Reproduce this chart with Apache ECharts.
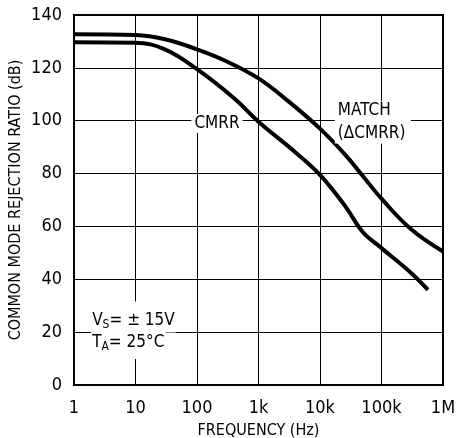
<!DOCTYPE html>
<html>
<head>
<meta charset="utf-8">
<script src="https://cdn.jsdelivr.net/npm/echarts@6/dist/echarts.min.js"></script>
<style>
  html, body { margin: 0; padding: 0; background: #fff; }
  #main { width: 456px; height: 438px; }
</style>
</head>
<body>
<div id="main"></div>
<script>
// values (frequency in Hz, ratio in dB)
var cmrrFreq = [1, 10, 30, 100, 400, 1000, 4000, 10000, 26000, 50000, 100000, 300000, 570000]
var cmrrDb = [129.7, 129.5, 127, 119.5, 108.5, 99.6, 88, 79.5, 67.5, 57.8, 51.8, 42.5, 36]
var matchFreq = [1, 10, 30, 100, 300, 1000, 3000, 10000, 26000, 50000, 100000, 300000, 1000000]
var matchDb = [132.7, 132.4, 130.8, 127, 122.5, 116, 107.5, 97, 87, 79, 70.5, 59, 50.5]
var xTickLabels = ['1', '10', '100', '1k', '10k', '100k', '1M']

var FONT = '"Liberation Sans Narrow", "DejaVu Sans Condensed", sans-serif'

function pairs (xs, ys) {
  return xs.map(function (x, i) { return [x, ys[i]] })
}

var chart = echarts.init(document.getElementById('main'))

var option = {
  animation: false,
  backgroundColor: '#fff',
  grid: {
    left: 74,
    right: 13,
    top: 15,
    bottom: 53,
    outerBoundsMode: 'none',
    containLabel: false,
    show: true,
    borderColor: '#000',
    borderWidth: 2
  },
  xAxis: {
    type: 'log',
    logBase: 10,
    min: 1,
    max: 1000000,
    name: 'FREQUENCY (Hz)',
    nameLocation: 'middle',
    nameGap: 38,
    nameTextStyle: { fontFamily: FONT, fontSize: 16, color: '#000' },
    axisLine: { show: true, lineStyle: { color: '#000', width: 2 } },
    axisTick: { show: false },
    minorTick: { show: false },
    axisLabel: {
      margin: 14,
      fontFamily: FONT,
      fontSize: 18,
      color: '#000',
      formatter: function (v) {
        return xTickLabels[Math.round(Math.log10(v))]
      }
    },
    splitLine: { show: true, lineStyle: { color: '#000', width: 1 } }
  },
  yAxis: {
    type: 'value',
    min: 0,
    max: 140,
    interval: 20,
    name: 'COMMON MODE REJECTION RATIO (dB)',
    nameLocation: 'middle',
    nameGap: 50,
    nameMoveOverlap: false,
    nameTextStyle: { fontFamily: FONT, fontSize: 16, color: '#000' },
    axisLine: { show: true, lineStyle: { color: '#000', width: 2 } },
    axisTick: { show: false },
    axisLabel: { margin: 12, fontFamily: FONT, fontSize: 18, color: '#000' },
    splitLine: { show: true, lineStyle: { color: '#000', width: 1 } }
  },
  series: [
    {
      name: 'CMRR',
      type: 'line',
      data: pairs(cmrrFreq, cmrrDb),
      smooth: 0.4,
      showSymbol: false,
      lineStyle: { color: '#000', width: 4 },
      z: 5
    },
    {
      name: 'MATCH',
      type: 'line',
      data: pairs(matchFreq, matchDb),
      smooth: 0.4,
      showSymbol: false,
      lineStyle: { color: '#000', width: 4 },
      z: 5
    }
  ]
}

chart.setOption(option)

// annotations, placed in data coordinates
function px (f, db) {
  return chart.convertToPixel({ gridIndex: 0 }, [f, db])
}

var pCmrr = px(211, 98.9)
var pMatch = px(19500, 103.9)
var pDelta = px(19500, 95)
var pVs = px(1.9, 25.7)
var pTa = px(1.9, 15.3)

function label (p, text, opts) {
  var style = {
    text: text,
    fontFamily: FONT,
    fontSize: 17,
    fill: '#000',
    align: 'left',
    verticalAlign: 'middle'
  }
  for (var k in opts) style[k] = opts[k]
  return { type: 'text', x: p[0], y: p[1], z: 10, style: style }
}

chart.setOption({
  graphic: [
    label(pCmrr, 'CMRR', { align: 'center', backgroundColor: '#fff', padding: [1, 3] }),
    {
      type: 'rect',
      z: 9,
      shape: { x: pMatch[0] - 3, y: pMatch[1] - 9, width: 76, height: 42 },
      style: { fill: '#fff' }
    },
    label(pMatch, 'MATCH'),
    label(pDelta, '(ΔCMRR)'),
    label(pVs, 'V{s|S}= ± 15V', {
      backgroundColor: '#fff',
      padding: [8, 1, 2, 1],
      rich: { s: { fontFamily: FONT, fontSize: 12, fill: '#000', padding: [9, 0, 0, 0] } }
    }),
    label(pTa, 'T{s|A}= 25°C', {
      backgroundColor: '#fff',
      padding: [2, 1, 6, 1],
      rich: { s: { fontFamily: FONT, fontSize: 12, fill: '#000', padding: [9, 0, 0, 0] } }
    })
  ]
})
</script>
</body>
</html>
